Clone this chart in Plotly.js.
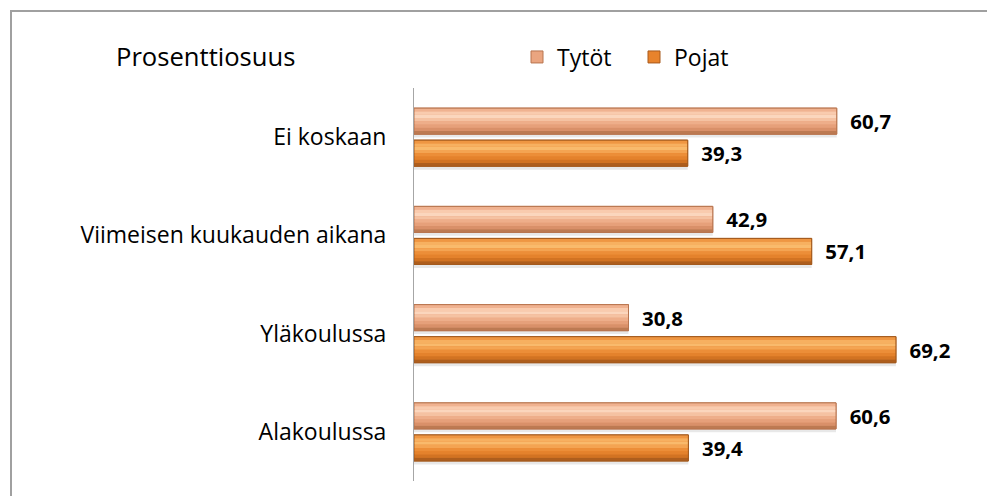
<!DOCTYPE html>
<html>
<head>
<meta charset="utf-8">
<script src="https://cdn.plot.ly/plotly-3.0.1.min.js"></script>
<style>
  html, body { margin: 0; padding: 0; background: #fff; overflow: hidden; }
  #wrap { position: relative; width: 987px; height: 496px; }
  #chart { position: absolute; left: 0; top: 0; width: 987px; height: 496px; }
  #frame { position: absolute; left: 10px; top: 10px; width: 1000px; height: 500px;
           border: 2px solid #a0a0a0; box-sizing: border-box; pointer-events: none; }
</style>
</head>
<body>
<div id="wrap">
  <div id="chart"></div>
  <div id="frame"></div>
</div>
<script>
// ---- data ----
const categories = ["Ei koskaan", "Viimeisen kuukauden aikana", "Yläkoulussa", "Alakoulussa"];
const tytot = [60.7, 42.9, 30.8, 60.6];
const pojat = [39.3, 57.1, 69.2, 39.4];
const seriesNames = ["Tytöt", "Pojat"];
const titleText = "Prosenttiosuus";

// ---- styling ----
const FONT = "'Open Sans', 'Noto Sans', sans-serif";
const barW = 0.265;
const offT = -0.295;   // Tytöt slot (upper)
const offP = 0.031;    // Pojat slot (lower)
const gradT = ["#f0b290", "#f9cbae", "#fbd6bd", "#f5c2a2", "#eeae8a", "#e6a07a", "#d99069", "#bd7a52"];
const gradP = ["#ef9642", "#f7b060", "#f9ba6c", "#f4a452", "#ec8e38", "#e4822c", "#d27322", "#ae5e1d"];

function layer(vals, off, w, color, lineColor) {
  return {
    type: "bar", orientation: "h", x: vals, y: categories,
    offset: off, width: w,
    marker: { color: color, line: lineColor ? { color: lineColor, width: 1 } : { width: 0 } },
    showlegend: false, hoverinfo: "skip"
  };
}

const traces = [];
// soft shadows
traces.push(layer(tytot, offT + 0.035, barW, "rgba(0,0,0,0.09)"));
traces.push(layer(pojat, offP + 0.035, barW, "rgba(0,0,0,0.09)"));
// main bars (legend + labels)
const labelFont = { family: FONT, size: 20.4, color: "#000", weight: "bold" };
traces.push({
  type: "bar", orientation: "h", name: seriesNames[0], x: tytot, y: categories,
  offset: offT, width: barW,
  marker: { color: "#eaa580", line: { color: "#b8754f", width: 1 } },
  texttemplate: "\u00a0\u00a0%{x:.1f}", textposition: "outside", constraintext: "none",
  textfont: labelFont, cliponaxis: false, hoverinfo: "skip", legendrank: 1
});
traces.push({
  type: "bar", orientation: "h", name: seriesNames[1], x: pojat, y: categories,
  offset: offP, width: barW,
  marker: { color: "#e8832c", line: { color: "#a85a1c", width: 1 } },
  texttemplate: "\u00a0\u00a0%{x:.1f}", textposition: "outside", constraintext: "none",
  textfont: labelFont, cliponaxis: false, hoverinfo: "skip", legendrank: 2
});
// gradient bands
const nb = gradT.length;
for (let i = 0; i < nb; i++) {
  traces.push(layer(tytot, offT + i * barW / nb, barW / nb, gradT[i]));
  traces.push(layer(pojat, offP + i * barW / nb, barW / nb, gradP[i]));
}
// outlines on top
traces.push(layer(tytot, offT, barW, "rgba(0,0,0,0)", "#b8754f"));
traces.push(layer(pojat, offP, barW, "rgba(0,0,0,0)", "#a25a1e"));

const layout = {
  width: 987, height: 496,
  paper_bgcolor: "#fff", plot_bgcolor: "#fff",
  margin: { l: 414, r: 27, t: 88, b: 15 },
  barmode: "overlay",
  separators: ", ",
  font: { family: FONT, size: 23, color: "#000" },
  title: {
    text: titleText, xref: "container", x: 116 / 987, xanchor: "left",
    yref: "container", y: 1 - 57 / 496, yanchor: "middle",
    font: { family: FONT, size: 25.6, color: "#000" }
  },
  showlegend: true,
  legend: {
    orientation: "h", x: 517 / 987, xanchor: "left", xref: "container",
    y: 1 - 57 / 496, yanchor: "middle", yref: "container",
    font: { family: FONT, size: 23 }, itemwidth: 30,
    entrywidth: 72, entrywidthmode: "pixels"
  },
  xaxis: { range: [0, 78.4], visible: false, fixedrange: true },
  yaxis: {
    type: "category", autorange: "reversed", showline: true, linecolor: "#a6a6a6", linewidth: 1,
    ticks: "", ticklabelstandoff: 22, showgrid: false, zeroline: false, fixedrange: true,
    tickfont: { family: FONT, size: 23, color: "#000" }
  }
};

Plotly.newPlot("chart", traces, layout, { displayModeBar: false, staticPlot: true });
</script>
</body>
</html>
